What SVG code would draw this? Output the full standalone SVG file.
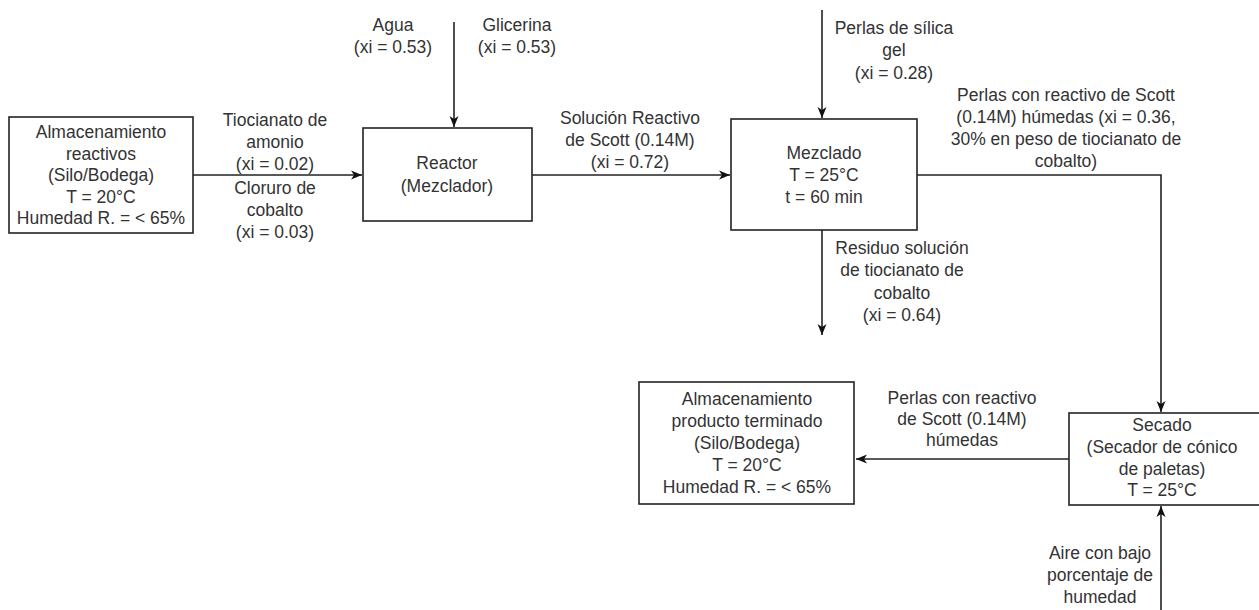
<svg xmlns="http://www.w3.org/2000/svg" width="1259" height="610" viewBox="0 0 1259 610">
<style>
text{font-family:"Liberation Sans",Arial,sans-serif;font-size:17.5px;fill:#333;text-anchor:middle;dominant-baseline:central}
.box{fill:#fff;stroke:#222;stroke-width:1.6}
.ln{fill:none;stroke:#222;stroke-width:1.6}
</style>
<defs>
<marker id="ah" markerUnits="userSpaceOnUse" markerWidth="12" markerHeight="12" viewBox="0 0 12 12" refX="11" refY="6" orient="auto">
<path d="M0,1.5 L11,6 L0,10.5 L3,6 z" fill="#111"/>
</marker>
</defs>
<rect width="1259" height="610" fill="#fff"/>
<g id="connectors">
<path class="ln" d="M193,175 H362" marker-end="url(#ah)"/>
<path class="ln" d="M454,22 V127" marker-end="url(#ah)"/>
<path class="ln" d="M532,175 H730" marker-end="url(#ah)"/>
<path class="ln" d="M822,10 V118" marker-end="url(#ah)"/>
<path class="ln" d="M822,230 V335" marker-end="url(#ah)"/>
<path class="ln" d="M917,175 H1161 V412" marker-end="url(#ah)"/>
<path class="ln" d="M1161,610 V506" marker-end="url(#ah)"/>
<path class="ln" d="M1069,459 H856" marker-end="url(#ah)"/>
<text x="275" y="120">Tiocianato de</text>
<text x="275" y="142">amonio</text>
<text x="275" y="164">(xi = 0.02)</text>
<text x="275" y="188">Cloruro de</text>
<text x="275" y="210">cobalto</text>
<text x="275" y="232">(xi = 0.03)</text>
<text x="393" y="25">Agua</text>
<text x="393" y="47">(xi = 0.53)</text>
<text x="517" y="25">Glicerina</text>
<text x="517" y="47">(xi = 0.53)</text>
<text x="630" y="118">Solución Reactivo</text>
<text x="630" y="140">de Scott (0.14M)</text>
<text x="630" y="162">(xi = 0.72)</text>
<text x="894" y="28">Perlas de sílica</text>
<text x="894" y="50">gel</text>
<text x="894" y="73">(xi = 0.28)</text>
<text x="1066" y="95">Perlas con reactivo de Scott</text>
<text x="1066" y="117">(0.14M) húmedas (xi = 0.36,</text>
<text x="1066" y="139">30% en peso de tiocianato de</text>
<text x="1066" y="161">cobalto)</text>
<text x="902" y="248">Residuo solución</text>
<text x="902" y="270">de tiocianato de</text>
<text x="902" y="293">cobalto</text>
<text x="902" y="315">(xi = 0.64)</text>
<text x="962" y="398">Perlas con reactivo</text>
<text x="962" y="419">de Scott (0.14M)</text>
<text x="962" y="440">húmedas</text>
<text x="1100" y="553">Aire con bajo</text>
<text x="1100" y="575">porcentaje de</text>
<text x="1100" y="597">humedad</text>
</g>
<g id="almacen-reactivos">
<rect class="box" x="9" y="117" width="184" height="116"/>
<text x="101" y="132">Almacenamiento</text>
<text x="101" y="153.5">reactivos</text>
<text x="101" y="175">(Silo/Bodega)</text>
<text x="101" y="196.5">T = 20°C</text>
<text x="101" y="218">Humedad R. = &lt; 65%</text>
</g>
<g id="reactor">
<rect class="box" x="363" y="128" width="169" height="93"/>
<text x="447" y="163">Reactor</text>
<text x="447" y="186">(Mezclador)</text>
</g>
<g id="mezclado">
<rect class="box" x="731" y="119" width="186" height="111"/>
<text x="824" y="153">Mezclado</text>
<text x="824" y="175">T = 25°C</text>
<text x="824" y="197">t = 60 min</text>
</g>
<g id="secado">
<rect class="box" x="1069" y="413" width="200" height="92"/>
<text x="1162" y="425">Secado</text>
<text x="1162" y="447">(Secador de cónico</text>
<text x="1162" y="469">de paletas)</text>
<text x="1162" y="490">T = 25°C</text>
</g>
<g id="almacen-producto">
<rect class="box" x="639" y="382" width="215" height="122"/>
<text x="747" y="399">Almacenamiento</text>
<text x="747" y="421">producto terminado</text>
<text x="747" y="443">(Silo/Bodega)</text>
<text x="747" y="465">T = 20°C</text>
<text x="747" y="487">Humedad R. = &lt; 65%</text>
</g>
</svg>
